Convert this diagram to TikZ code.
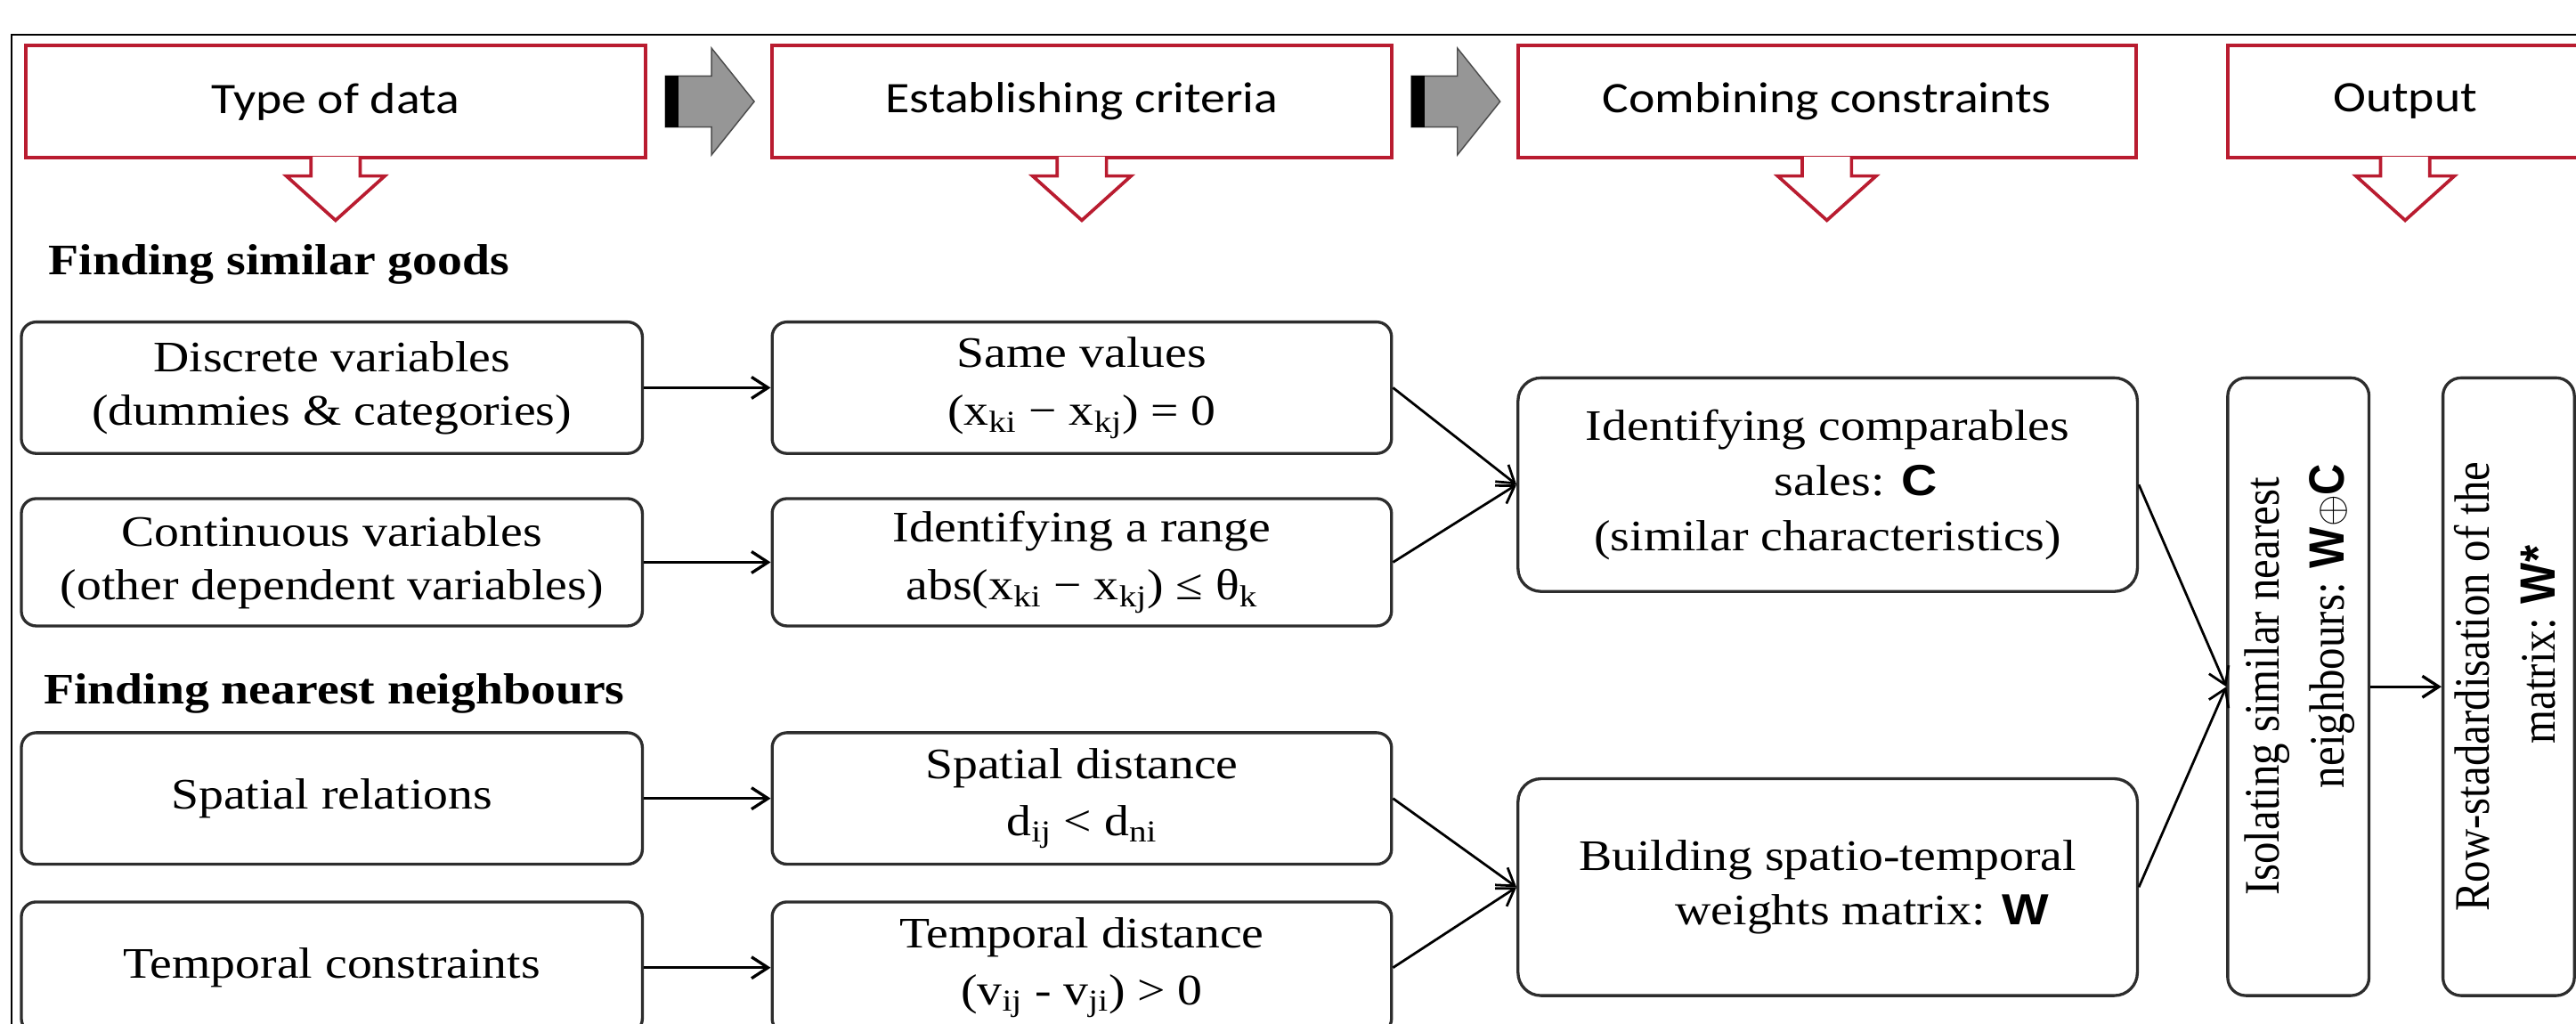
\documentclass[tikz,border=0pt]{standalone}
\usepackage{graphicx}
\usepackage{fontspec}
\setmainfont{Liberation Serif}
\newfontfamily\bodyfont{Liberation Serif}[FakeStretch=1.14]
\newfontfamily\rotfont{Liberation Serif}[FakeStretch=0.877]
\newfontfamily\hdrfont{Carlito}[FakeStretch=1.14]
\newfontfamily\bsans{Liberation Sans}[FakeStretch=1.14]
\newfontfamily\rotsans{Liberation Sans}[FakeStretch=0.877]
\usetikzlibrary{arrows.meta}
\definecolor{hdrred}{RGB}{185,28,48}
\definecolor{boxline}{RGB}{45,45,45}
\definecolor{arrgray}{RGB}{150,150,150}
\newcommand\hdrdown[1]{%
  \filldraw[downarr] ([xshift=-15pt,yshift=1.6pt]#1.south) -- ++(0,11.6) -- ++(-15,0)
    -- ++(30,27) -- ++(30,-27) -- ++(-15,0) -- ++(0,-11.6);}
\newcommand\blockarrow[1]{%
  \filldraw[blockarr] ([xshift=11pt,yshift=15.5pt]#1.east) -- ++(28,0) -- ++(0,-17)
    -- ++(26,32.5) -- ++(-26,32.5) -- ++(0,-17) -- ++(-28,0) -- cycle;
  \fill[black] ([xshift=11pt,yshift=15.5pt]#1.east) rectangle ([xshift=19pt,yshift=-15.5pt]#1.east);}
\begin{document}
\begin{tikzpicture}[x=1pt,y=-1pt,
  hdr/.style={draw=hdrred, line width=2.2pt, fill=white, minimum height=68.4pt, inner sep=0pt,
    font=\hdrfont\fontsize{26.5}{30}\selectfont},
  lbox/.style={draw=boxline, line width=1.8pt, rounded corners=9pt, minimum width=378pt, inner sep=0pt,
    align=center, font=\bodyfont\fontsize{26.5}{32.5}\selectfont},
  mbox/.style={lbox, minimum width=377pt, font=\bodyfont\fontsize{26.5}{35}\selectfont},
  rbox/.style={draw=boxline, line width=1.8pt, rounded corners=14pt, minimum width=377pt, inner sep=0pt,
    align=center, font=\bodyfont\fontsize{26.5}{33.5}\selectfont},
  vbox/.style={draw=boxline, line width=1.8pt, rounded corners=11pt, minimum height=376pt, inner sep=0pt},
  sect/.style={anchor=west, inner sep=0pt, font=\bodyfont\bfseries\fontsize{26.5}{30}\selectfont},
  conn/.style={line width=1.8pt, -{Straight Barb[length=10pt,width=13pt]}},
  dconn/.style={line width=1.5pt, -{Straight Barb[length=10pt,width=13pt]}},
  downarr/.style={draw=hdrred, fill=white, line width=2pt, line join=miter},
  blockarr/.style={fill=arrgray, draw=black!70, line width=0.8pt},
]
\useasboundingbox (0,0) rectangle (1568,623);
\fill[white] (0,0) rectangle (1568,623);
\clip (0,0) rectangle (1568,623);

% frame
\draw[line width=1.2pt] (7,640) -- (7,21) -- (1580,21);

% header boxes
\node[hdr, minimum width=377.5pt] (h1) at (204.25,61.8) {Type of data};
\node[hdr, minimum width=377pt] (h2) at (658.5,61.8) {Establishing criteria};
\node[hdr, minimum width=376pt] (h3) at (1112,61.8) {Combining constraints};
\node[hdr, minimum width=216pt] (h4) at (1464,61.8) {Output};
\hdrdown{h1}
\hdrdown{h2}
\hdrdown{h3}
\hdrdown{h4}
\blockarrow{h1}
\blockarrow{h2}

% section labels
\node[sect] (s1) at (29.5,161) {Finding similar goods};
\node[sect] (s2) at (26.4,422) {Finding nearest neighbours};

% left column
\node[lbox, minimum height=80pt] (l1) at (202,236) {Discrete variables\\(dummies \& categories)};
\node[lbox, minimum height=77.5pt] (l2) at (202,342.25) {Continuous variables\\(other dependent variables)};
\node[lbox, minimum height=80pt] (l3) at (202,486) {Spatial relations};
\node[lbox, minimum height=80pt] (l4) at (202,589) {Temporal constraints};

% middle column
\node[mbox, minimum height=80pt] (m1) at (658.5,236) {Same values\\(x\textsubscript{ki} − x\textsubscript{kj}) = 0};
\node[mbox, minimum height=77.5pt] (m2) at (658.5,342.25) {Identifying a range\\abs(x\textsubscript{ki} − x\textsubscript{kj}) ≤ θ\textsubscript{k}};
\node[mbox, minimum height=80pt] (m3) at (658.5,486) {Spatial distance\\d\textsubscript{ij} < d\textsubscript{ni}};
\node[mbox, minimum height=80pt] (m4) at (658.5,589) {Temporal distance\\(v\textsubscript{ij} - v\textsubscript{ji}) > 0};

% combining column
\node[rbox, minimum height=130pt] (c) at (1112.5,295) {Identifying comparables\\\hspace*{34pt}sales: {\bsans\bfseries C}\\(similar characteristics)};
\node[rbox, minimum height=132pt] (b) at (1112.5,540) {Building spatio-temporal\\\hspace*{42pt}weights matrix: {\bsans\bfseries W}};

% output column
\node[vbox, minimum width=86pt] (iso) at (1399,418) {\rotatebox{90}{\rotfont\fontsize{30.2}{40}\selectfont
  \begin{tabular}{@{}c@{}}Isolating similar nearest\\\hspace*{74pt}neighbours: {\rotsans\bfseries W}$\oplus${\rotsans\bfseries C}\end{tabular}}};
\node[vbox, minimum width=80pt] (row) at (1527,418) {\rotatebox{90}{\rotfont\fontsize{30.2}{40}\selectfont
  \begin{tabular}{@{}c@{}}Row-stadardisation of the\\\hspace*{51pt}matrix: {\rotsans\bfseries W*}\end{tabular}}};

% connectors
\draw[conn] (l1.east) -- (m1.west);
\draw[conn] (l2.east) -- (m2.west);
\draw[conn] (l3.east) -- (m3.west);
\draw[conn] (l4.east) -- (m4.west);
\draw[dconn] (m1.east) -- (c.west);
\draw[dconn] (m2.east) -- (c.west);
\draw[dconn] (m3.east) -- (b.west);
\draw[dconn] (m4.east) -- (b.west);
\draw[dconn] (c.east) -- (iso.west);
\draw[dconn] (b.east) -- (iso.west);
\draw[conn] (iso.east) -- (row.west);
\end{tikzpicture}
\end{document}
